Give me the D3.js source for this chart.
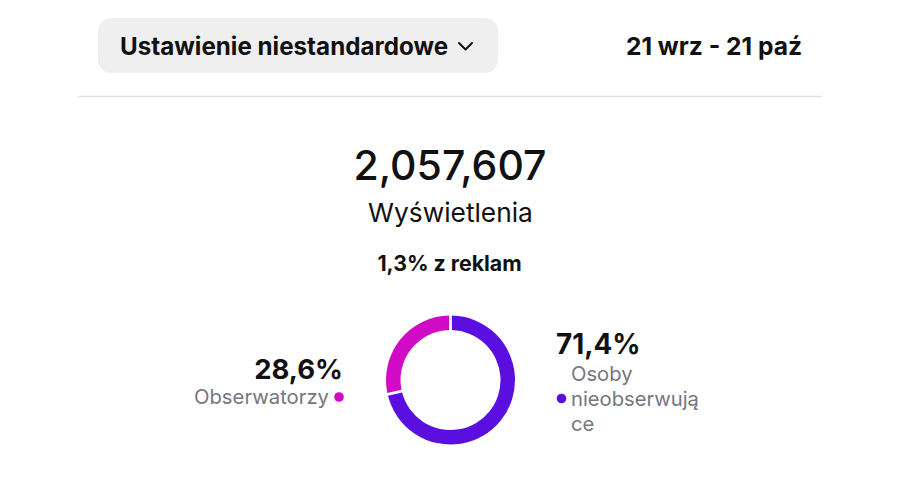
<!DOCTYPE html>
<html><head><meta charset="utf-8">
<script src="https://cdn.jsdelivr.net/npm/d3@7"></script>
<style>body{margin:0;background:#fff}svg{display:block}text{font-family:Inter,"Noto Sans",sans-serif}</style>
</head><body><div id="chart"></div>
<script>
const categories = ["Osoby nieobserwujące", "Obserwatorzy"];
const shares = [71.4, 28.6];
const shareLabels = ["71,4%", "28,6%"];
const colors = ["#5a0fe0", "#d00ac5"];
const totalLabel = "2,057,607";
const metricLabel = "Wyświetlenia";
const adsLabel = "1,3% z reklam";
const rangeLabel = "Ustawienie niestandardowe";
const dateLabel = "21 wrz - 21 paź";

const W = 900, H = 500;
const svg = d3.select("#chart").append("svg").attr("width", W).attr("height", H);

// header
svg.append("rect").attr("x", 98).attr("y", 18).attr("width", 400).attr("height", 55).attr("rx", 13).attr("fill", "#efefef");
svg.append("text").attr("x", 120).attr("y", 55).attr("font-size", 24.2).attr("font-weight", 700).attr("fill", "#111").text(rangeLabel);
svg.append("path").attr("d", "M459,43 L465.5,49.5 L472,43").attr("fill", "none").attr("stroke", "#111").attr("stroke-width", 2).attr("stroke-linecap", "round").attr("stroke-linejoin", "round");
svg.append("text").attr("x", 802).attr("y", 55).attr("text-anchor", "end").attr("font-size", 24.6).attr("font-weight", 700).attr("fill", "#111").text(dateLabel);
svg.append("line").attr("x1", 78).attr("x2", 822).attr("y1", 96.5).attr("y2", 96.5).attr("stroke", "#e3e3e3").attr("stroke-width", 1.5);

// headline
svg.append("text").attr("x", 450).attr("y", 180).attr("text-anchor", "middle").attr("font-size", 41).attr("font-weight", 500).attr("fill", "#111").text(totalLabel);
svg.append("text").attr("x", 450.5).attr("y", 222).attr("text-anchor", "middle").attr("font-size", 26.3).attr("font-weight", 400).attr("fill", "#111").text(metricLabel);
svg.append("text").attr("x", 449.5).attr("y", 271).attr("text-anchor", "middle").attr("font-size", 21.3).attr("font-weight", 700).attr("fill", "#111").text(adsLabel);

// donut
const cx = 450.5, cy = 380;
const pie = d3.pie().sort(null).value(d => d)(shares);
const arc = d3.arc().innerRadius(50).outerRadius(64.5).padAngle(0.035);
svg.append("g").attr("transform", `translate(${cx},${cy})`)
  .selectAll("path").data(pie).join("path")
  .attr("d", arc).attr("fill", (d, i) => colors[i]);

// right label (non-followers)
svg.append("text").attr("x", 556).attr("y", 354).attr("font-size", 27.8).attr("font-weight", 700).attr("fill", "#111").text(shareLabels[0]);
const nameParts = ["Osoby", "nieobserwują", "ce"];
nameParts.forEach((t, i) => svg.append("text").attr("x", 571).attr("y", 381 + i * 25).attr("font-size", 20.2).attr("fill", "#767680").text(t));
svg.append("circle").attr("cx", 561.5).attr("cy", 398.5).attr("r", 4.8).attr("fill", colors[0]);

// left label (followers)
svg.append("text").attr("x", 343).attr("y", 379).attr("text-anchor", "end").attr("font-size", 27.5).attr("font-weight", 700).attr("fill", "#111").text(shareLabels[1]);
svg.append("text").attr("x", 329).attr("y", 404).attr("text-anchor", "end").attr("font-size", 20.3).attr("fill", "#767680").text(categories[1]);
svg.append("circle").attr("cx", 339).attr("cy", 397).attr("r", 4.8).attr("fill", colors[1]);
</script></body></html>
